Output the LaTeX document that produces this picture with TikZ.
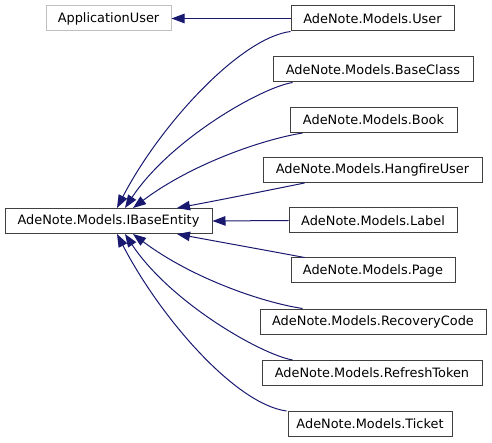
\documentclass[tikz,border=0pt]{standalone}
\usepackage{fontspec}
\setmainfont{DejaVu Sans}
\usetikzlibrary{arrows.meta}
\definecolor{edgeblue}{HTML}{191970}
\definecolor{boxgrey}{HTML}{404040}
\definecolor{lightboxgrey}{HTML}{BFBFBF}
\begin{document}
\begin{tikzpicture}[x=1pt,y=-1pt,
  cls/.style={draw=boxgrey,line width=1pt,fill=white,inner sep=0pt,minimum height=25pt,
    font=\fontsize{12.9}{15}\selectfont},
  extcls/.style={cls,draw=lightboxgrey},
  inh/.style={draw=edgeblue,line width=1pt,-{Triangle[length=13pt,width=9.5pt]}}]
\useasboundingbox (0,0) rectangle (492,443);
\node[extcls,minimum width=125pt] (app) at (108.5,18.5) {ApplicationUser};
\node[cls,minimum width=207pt] (ibe) at (108.5,221) {AdeNote.Models.IBaseEntity};
\node[cls,minimum width=163pt] (user) at (372.5,18.5) {AdeNote.Models.User};
\node[cls,minimum width=200pt] (base) at (373,69.5) {AdeNote.Models.BaseClass};
\node[cls,minimum width=167pt] (book) at (373.5,120) {AdeNote.Models.Book};
\node[cls,minimum width=219pt] (hang) at (372.5,170) {AdeNote.Models.HangfireUser};
\node[cls,minimum width=168pt] (label) at (373,220.5) {AdeNote.Models.Label};
\node[cls,minimum width=164pt] (page) at (373,270.5) {AdeNote.Models.Page};
\node[cls,minimum width=226pt] (rec) at (373,321.5) {AdeNote.Models.RecoveryCode};
\node[cls,minimum width=220pt] (ref) at (372,373) {AdeNote.Models.RefreshToken};
\node[cls,minimum width=164pt] (ticket) at (370,424) {AdeNote.Models.Ticket};
% attachment points on IBaseEntity
\coordinate (t1) at ([xshift=8.5pt]ibe.north);
\coordinate (t2) at ([xshift=16.5pt]ibe.north);
\coordinate (t3) at ([xshift=24.5pt]ibe.north);
\coordinate (t4) at ([xshift=68.5pt]ibe.north);
\coordinate (b1) at ([xshift=8.5pt]ibe.south);
\coordinate (b2) at ([xshift=16.5pt]ibe.south);
\coordinate (b3) at ([xshift=24.5pt]ibe.south);
\coordinate (b4) at ([xshift=68.5pt]ibe.south);
% edges
\draw[inh] (user.west) -- (app.east);
\draw[inh] (user.south west) .. controls (240,38) and (160,125) .. (t1);
\draw[inh] ([xshift=20pt]base.south west) .. controls (260,88) and (170,140) .. (t2);
\draw[inh] ([xshift=13pt]book.south west) .. controls (260,140) and (190,165) .. (t3);
\draw[inh] ([xshift=42pt]hang.south west) .. controls (270,190) and (220,200) .. (t4);
\draw[inh] (label.west) -- (ibe.east);
\draw[inh] ([xshift=14pt]page.north west) .. controls (270,251) and (220,242) .. (b4);
\draw[inh] ([xshift=43pt]rec.north west) .. controls (260,302) and (190,277) .. (b3);
\draw[inh] ([xshift=31pt]ref.north west) .. controls (260,354) and (170,302) .. (b2);
\draw[inh] ([xshift=-1pt]ticket.north west) .. controls (235,404) and (160,317) .. (b1);
\end{tikzpicture}
\end{document}
